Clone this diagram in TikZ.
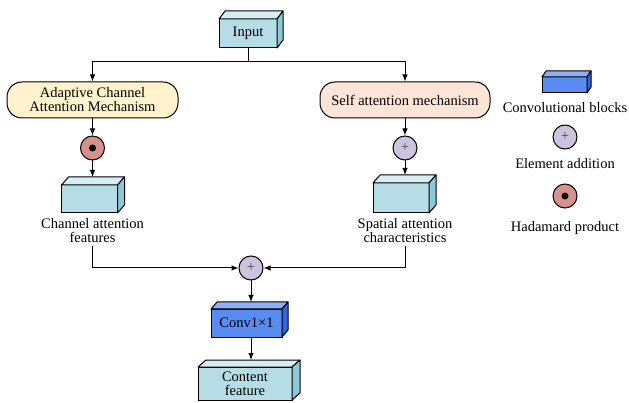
\documentclass[tikz,border=0pt]{standalone}
\usepackage{fontspec}
\setmainfont{Liberation Serif}
\usetikzlibrary{arrows.meta}

\definecolor{cyfront}{RGB}{182,221,230}
\definecolor{cytop}{RGB}{214,238,243}
\definecolor{cyside}{RGB}{140,200,215}
\definecolor{bufront}{RGB}{88,140,240}
\definecolor{butop}{RGB}{140,175,245}
\definecolor{buside}{RGB}{50,100,230}
\definecolor{acamfill}{RGB}{255,242,204}
\definecolor{samfill}{RGB}{252,228,214}
\definecolor{hadfill}{RGB}{214,145,140}
\definecolor{addfill}{RGB}{205,195,222}

% cuboid: name, x, y, width, height, dx, dy, colour scheme, text
\newcommand{\cuboid}[9]{%
  \node[cubeface, fill=#8front, minimum width=#4, minimum height=#5] (#1) at (#2,#3) {#9};
  \draw[cubeedge, fill=#8top] (#1.north west) -- ([shift={(#6,#7)}]#1.north west)
    -- ([shift={(#6,#7)}]#1.north east) -- (#1.north east) -- cycle;
  \draw[cubeedge, fill=#8side] (#1.north east) -- ([shift={(#6,#7)}]#1.north east)
    -- ([shift={(#6,#7)}]#1.south east) -- (#1.south east) -- cycle;
  \coordinate (#1b) at ([shift={(#6,#7)}]#1.north);
}

\newcommand{\txt}{\fontsize{14.5}{14}\selectfont}
\tikzset{
  cubeface/.style={draw, line width=1pt, inner sep=0pt, outer sep=0pt, align=center, font=\txt},
  cubeedge/.style={draw, line width=1pt, line join=round},
  pill/.style={draw, line width=1pt, rounded corners=15pt, inner sep=0pt, align=center,
    minimum height=36pt, font=\txt},
  opcirc/.style={circle, draw, line width=1pt, minimum size=24pt, inner sep=0pt},
  addop/.style={opcirc, fill=addfill, label={[text=black!75, font=\fontsize{14}{14}\selectfont, inner sep=0pt]center:+}},
  hadop/.style={opcirc, fill=hadfill},
  lbl/.style={align=center, font=\txt, inner sep=3pt},
  arr/.style={line width=1pt, -{Latex[length=7pt,width=5.5pt]}},
  ln/.style={line width=1pt},
}

\begin{document}
\begin{tikzpicture}[x=1pt, y=-1pt]
\useasboundingbox (0,0) rectangle (629,403);

% input block
\cuboid{input}{248}{33.5}{58}{29}{6}{-8}{cy}{Input}

% two attention branches
\node[pill, fill=acamfill, minimum width=171pt] (acam) at (92.5,100) {Adaptive Channel\\Attention Mechanism};
\node[pill, fill=samfill, minimum width=170pt] (sam) at (405,100) {Self attention mechanism};

\coordinate (split) at (248,62);
\draw[ln] (input.south) -- (split);
\draw[arr] (split) -| (acam.north);
\draw[arr] (split) -| (sam.north);

% operators
\node[hadop] (had) at (92.5,148) {};
\fill (had) circle (3.5pt);
\node[addop] (add1) at (405,148) {};

\draw[arr] (acam.south) -- (had.north);
\draw[arr] (sam.south) -- (add1.north);

% feature blocks
\cuboid{chf}{89.5}{199}{56}{28}{7}{-8}{cy}{}
\cuboid{spf}{401}{198}{56}{30}{7}{-8}{cy}{}

\draw[arr] (had.south) -- (had.south |- chfb);
\draw[arr] (add1.south) -- (add1.south |- spfb);

\node[lbl] (chlab) at (92.5,230.5) {Channel attention\\features};
\node[lbl] (splab) at (405,230.5) {Spatial attention\\characteristics};

% fusion
\node[addop] (sum) at (251,268) {};
\draw[arr] (chlab.south) |- (sum.west);
\draw[arr] (splab.south) |- (sum.east);

\cuboid{conv}{246.5}{323}{71}{28}{6}{-7}{bu}{Conv1×1}
\draw[arr] (sum.south) -- (sum.south |- convb);

\cuboid{content}{245}{383.5}{94}{33}{8}{-7}{cy}{Content\\feature}
\draw[arr] (conv.south -| sum.south) -- (sum.south |- contentb);

% legend
\cuboid{legconv}{564.5}{85}{45}{16}{4}{-6}{bu}{}
\node[lbl] (legconvt) at (565,108) {Convolutional blocks};
\node[addop] (legadd) at (565,137) {};
\node[lbl] (legaddt) at (565,164) {Element addition};
\node[hadop] (leghad) at (565,196) {};
\fill (leghad) circle (3.5pt);
\node[lbl] (leghadt) at (565,228) {Hadamard product};
\end{tikzpicture}
\end{document}
